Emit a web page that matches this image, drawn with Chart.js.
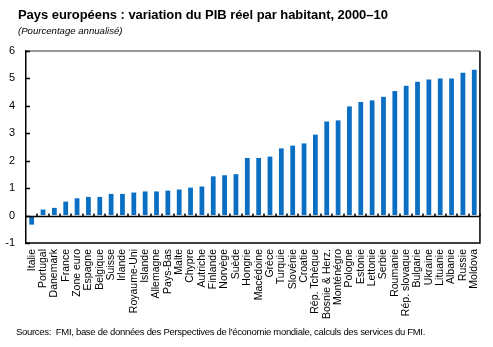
<!DOCTYPE html>
<html>
<head>
<meta charset="utf-8">
<script src="https://cdn.jsdelivr.net/npm/chart.js@4/dist/chart.umd.min.js"></script>
<style>
  body { margin: 0; background: #fff; }
  .wrap { position: relative; width: 493px; height: 347px; font-family: "Liberation Sans", Arial, sans-serif; }
  canvas { position: absolute; left: 0; top: 0; }
  .title { position: absolute; left: 18px; top: 7px; font-size: 13px; font-weight: bold; letter-spacing: -0.05px; white-space: nowrap; }
  .subtitle { position: absolute; left: 18px; top: 25px; font-size: 9.6px; font-style: italic; white-space: nowrap; }
  .source { position: absolute; left: 16px; top: 326px; font-size: 9.5px; letter-spacing: -0.3px; white-space: nowrap; }
</style>
</head>
<body>
<div class="wrap">
  <canvas id="chart" width="493" height="347"></canvas>
  <div class="title">Pays européens : variation du PIB réel par habitant, 2000–10</div>
  <div class="subtitle">(Pourcentage annualisé)</div>
  <div class="source">Sources:&nbsp; FMI, base de données des Perspectives de l'économie mondiale, calculs des services du FMI.</div>
</div>
<script>
const countries = [
    "Italie", "Portugal", "Danemark", "France", "Zone euro", "Espagne", "Belgique", "Suisse", "Irlande", "Royaume-Uni",
    "Islande", "Allemagne", "Pays-Bas", "Malte", "Chypre", "Autriche", "Finlande", "Norvège", "Suède", "Hongrie",
    "Macédoine", "Grèce", "Turquie", "Slovénie", "Croatie", "Rép. Tchèque", "Bosnie & Herz.", "Monténégro", "Pologne", "Estonie",
    "Lettonie", "Serbie", "Roumanie", "Rép. slovaque", "Bulgarie", "Ukraine", "Lituanie", "Albanie", "Russie", "Moldova",
];
const growth = [
    -0.33, 0.22, 0.28, 0.51, 0.63, 0.68, 0.68, 0.79, 0.79, 0.84,
    0.88, 0.88, 0.91, 0.95, 1.02, 1.06, 1.43, 1.47, 1.51, 2.1,
    2.1, 2.15, 2.45, 2.55, 2.63, 2.95, 3.43, 3.47, 3.98, 4.14,
    4.2, 4.33, 4.54, 4.73, 4.88, 4.96, 5.0, 5.0, 5.21, 5.32,
];
const yticks = [-1, 0, 1, 2, 3, 4, 5, 6];

Chart.defaults.font.family = "'Liberation Sans', Arial, sans-serif";
Chart.defaults.color = "#000";

// frame of the plot area, zero line and the small inward tick marks
const frame = {
    id: "frame",
    afterDraw(chart) {
        const { ctx, chartArea: a, scales } = chart;
        const x = scales.x;
        const y = scales.y;
        const zero = Math.round(y.getPixelForValue(0)) + 0.5;
        const step = x.getPixelForValue(1) - x.getPixelForValue(0);

        ctx.save();
        ctx.strokeStyle = "#000";
        ctx.lineWidth = 1.5;
        ctx.beginPath();
        ctx.moveTo(a.left, a.bottom);
        ctx.lineTo(a.right, a.bottom);
        ctx.lineTo(a.right, a.top);
        ctx.moveTo(a.left, zero);
        ctx.lineTo(a.right, zero);
        ctx.stroke();

        ctx.strokeStyle = "#333";
        ctx.lineWidth = 1;
        ctx.beginPath();
        ctx.moveTo(a.left, a.top);
        ctx.lineTo(a.right, a.top);
        ctx.stroke();

        ctx.strokeStyle = "#000";
        ctx.lineWidth = 1.5;
        ctx.beginPath();
        countries.forEach((c, i) => {
            const px = Math.round(x.getPixelForValue(i) + step / 2);
            ctx.moveTo(px, zero);
            ctx.lineTo(px, zero - 3);
        });
        yticks.forEach((v) => {
            const py = Math.round(y.getPixelForValue(v)) + 0.5;
            ctx.moveTo(a.left, py);
            ctx.lineTo(a.left + 4, py);
        });
        ctx.stroke();
        ctx.restore();
    },
};

const ctx = document.getElementById("chart").getContext("2d");

new Chart(ctx, {
    type: "bar",
    data: {
        labels: countries,
        datasets: [
            {
                data: growth,
                backgroundColor: "#0a6fc2",
                barPercentage: 0.42,
                categoryPercentage: 1,
            },
        ],
    },
    plugins: [frame],
    options: {
        responsive: false,
        animation: false,
        layout: { padding: { top: 51, right: 11, left: 0, bottom: 0 } },
        plugins: {
            legend: { display: false },
            tooltip: { enabled: false },
        },
        scales: {
            x: {
                grid: { display: false, drawTicks: false },
                border: { display: false },
                ticks: {
                    autoSkip: false,
                    minRotation: 90,
                    maxRotation: 90,
                    padding: 6,
                    font: { size: 10.5 },
                },
                afterFit: (s) => { s.height = 104; },
            },
            y: {
                min: -1,
                max: 6,
                afterBuildTicks: (s) => { s.ticks = yticks.map((v) => ({ value: v })); },
                grid: { drawOnChartArea: false, drawTicks: false },
                border: { color: "#000", width: 1.5 },
                ticks: { padding: 11, font: { size: 11 } },
                afterFit: (s) => { s.width = 26; },
            },
        },
    },
});
</script>
</body>
</html>
